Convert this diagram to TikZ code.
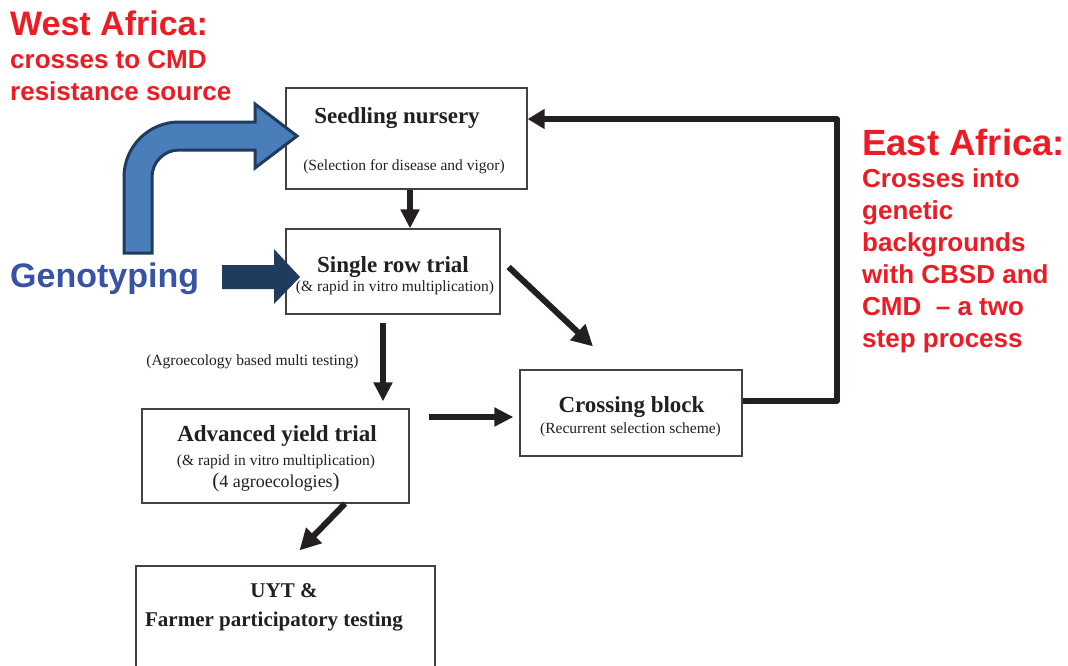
\documentclass[tikz,border=0pt]{standalone}
\usepackage{fontspec}
\setmainfont{Liberation Serif}
\newfontfamily\headsans{Liberation Sans}
\usetikzlibrary{arrows.meta,calc}
\definecolor{hdred}{RGB}{237,28,36}
\definecolor{gtblue}{RGB}{57,83,164}
\definecolor{arrfill}{RGB}{74,126,187}
\definecolor{arrnavy}{RGB}{31,59,94}
\definecolor{ink}{RGB}{35,31,32}
\begin{document}
\begin{tikzpicture}[x=1pt,y=-1pt,
  stage/.style={draw=ink!85, line width=1.2pt, inner sep=0pt, fill=white},
  title/.style={font=\fontsize{23}{26}\selectfont\bfseries, anchor=base, text=ink, inner sep=0pt},
  ttl/.style={font=\fontsize{21}{24}\selectfont\bfseries, anchor=base, text=ink, inner sep=0pt},
  note/.style={font=\fontsize{15.5}{18}\selectfont, anchor=base, text=ink, inner sep=0pt},
  regionline/.style={font=\headsans\bfseries\fontsize{26}{30}\selectfont, text=hdred, anchor=base west, inner sep=0pt},
  flow/.style={draw=ink, line width=6pt, -{Triangle[length=19pt,width=18pt]}},
  slant/.style={draw=ink, line width=6pt, -{Triangle[length=21pt,width=21pt]}},
  backflow/.style={draw=ink, line width=5.5pt, line join=round, -{Triangle[length=17pt,width=19pt]}},
]
\useasboundingbox (0,0) rectangle (1068,665);
\clip (0,0) rectangle (1068,665);
\fill[white] (0,0) rectangle (1068,665);

% stage boxes
\node[stage, minimum width=241pt, minimum height=101pt] (seed)  at (406.5,138.5) {};
\node[stage, minimum width=214pt, minimum height=85pt]  (row)   at (393,271.5) {};
\node[stage, minimum width=222pt, minimum height=86pt]  (cross) at (631,413) {};
\node[stage, minimum width=267pt, minimum height=94pt]  (adv)   at (275.5,456) {};
\node[stage, minimum width=299pt, minimum height=134pt] (uyt)   at (285.5,633) {};

% box texts
\node[title] (seedT) at (397,123) {Seedling nursery};
\node[note]  (seedN) at (404,170) {(Selection for disease and vigor)};
\node[title] (rowT)  at (393,272) {Single row trial};
\node[note]  (rowN)  at (395,291) {(\& rapid in vitro multiplication)};
\node[note]  (agro)  at (252.5,365) {(Agroecology based multi testing)};
\node[title] (crossT) at (631.5,412) {Crossing block};
\node[note]  (crossN) at (630.5,433) {(Recurrent selection scheme)};
\node[title] (advT)  at (277,441) {Advanced yield trial};
\node[note]  (advN)  at (276,465) {(\& rapid in vitro multiplication)};
\node[font=\fontsize{18}{20}\selectfont, anchor=base, text=ink, inner sep=0pt] (advE) at (276,487)
  {{\fontsize{21}{22}\selectfont(}4 agroecologies{\fontsize{21}{22}\selectfont)}};
\node[ttl] (uytA) at (284,597) {UYT \&};
\node[ttl] (uytB) at (274,626) {Farmer participatory testing};

% regional labels
\node[font=\headsans\bfseries\fontsize{34}{40}\selectfont, text=hdred, anchor=base west, inner sep=0pt]
  (west)  at (10,35)  {West Africa:};
\node[regionline] (westB) at (10,68)  {crosses to CMD};
\node[regionline] (westC) at (10,100) {resistance source};

\node[font=\headsans\bfseries\fontsize{36.5}{40}\selectfont, text=hdred, anchor=base west, inner sep=0pt]
  (east)  at (862,155) {East Africa:};
\node[regionline] (eastB) at (862,187) {Crosses into};
\node[regionline] (eastC) at (862,219) {genetic};
\node[regionline] (eastD) at (862,251) {backgrounds};
\node[regionline] (eastE) at (862,283) {with CBSD and};
\node[regionline] (eastF) at (862,315) {CMD~ – a two};
\node[regionline] (eastG) at (862,347) {step process};

\node[font=\headsans\bfseries\fontsize{34}{40}\selectfont, text=gtblue, anchor=base west, inner sep=0pt]
  (geno) at (10,287) {Genotyping};

% bent block arrow into the seedling nursery
\draw[arrnavy, line width=3pt, fill=arrfill, line join=miter]
  (124,253) -- (124,177)
  .. controls (124,146.6) and (148.6,122) .. (179,122)
  -- (255,122) -- (255,104) -- (297,136) -- (255,168) -- (255,150) -- (179,150)
  .. controls (164.1,150) and (152,162.1) .. (152,177)
  -- (152,253) -- cycle;

% genotyping block arrow
\fill[arrnavy] (222,265) -- (274,265) -- (274,249) -- (300,277) -- (274,304) -- (274,289) -- (222,289) -- cycle;

% flow connectors
\draw[flow] ($(seed.south)+(3.5,0)$) -- ($(row.north)+(17,0)$);
\coordinate (rowOut) at ($(row.east)+(8,-4.5)$);
\coordinate (crossIn) at ($(cross.north)+(-38,-23)$);
\draw[slant] (rowOut) -- (crossIn);
\coordinate (rowDown) at ($(row.south)+(-10,8)$);
\coordinate (advIn) at ($(adv.north)+(107.5,-7)$);
\draw[flow] (rowDown) -- (advIn);
\coordinate (advOut) at ($(adv.east)+(19,-39)$);
\draw[flow] (advOut) -- ($(cross.west)+(-6,4)$);
\coordinate (advLow) at ($(adv.south)+(69.5,0)$);
\coordinate (uytIn) at ($(uyt.north)+(14,-15)$);
\draw[slant] (advLow) -- (uytIn);

% recurrent selection feedback loop
\coordinate (fbturn) at (837,119);
\draw[backflow] ($(cross.east)+(0,-12)$) -| (fbturn) -- ($(seed.east)+(0,-19.5)$);
\end{tikzpicture}
\end{document}
